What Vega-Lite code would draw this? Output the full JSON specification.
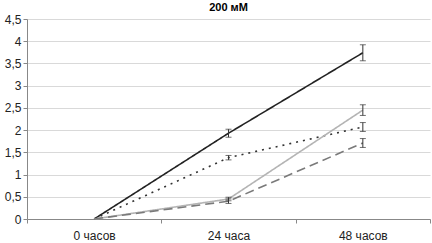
{
  "$schema": "https://vega.github.io/schema/vega-lite/v6.json",
  "width": 403,
  "height": 200,
  "autosize": {"type": "none"},
  "padding": {"left": 27, "top": 19, "right": 2, "bottom": 24},
  "background": "white",
  "title": {"text": "200 мМ", "font": "Liberation Sans", "fontSize": 11, "fontWeight": "bold", "color": "#000", "offset": 0},
  "config": {
    "view": {"stroke": null},
    "axis": {"labelFont": "Liberation Sans", "labelFontSize": 12, "labelColor": "#222", "domainColor": "#888", "tickColor": "#888", "gridColor": "#d9d9d9"}
  },
  "data": {"values": [
    {"t": "0 часов", "s": "A", "v": 0, "e": 0},
    {"t": "24 часа", "s": "A", "v": 1.93, "e": 0.09},
    {"t": "48 часов", "s": "A", "v": 3.74, "e": 0.18},
    {"t": "0 часов", "s": "B", "v": 0, "e": 0},
    {"t": "24 часа", "s": "B", "v": 1.38, "e": 0.05},
    {"t": "48 часов", "s": "B", "v": 2.07, "e": 0.1},
    {"t": "0 часов", "s": "C", "v": 0, "e": 0},
    {"t": "24 часа", "s": "C", "v": 0.45, "e": 0.04},
    {"t": "48 часов", "s": "C", "v": 2.45, "e": 0.12},
    {"t": "0 часов", "s": "D", "v": 0, "e": 0},
    {"t": "24 часа", "s": "D", "v": 0.4, "e": 0.05},
    {"t": "48 часов", "s": "D", "v": 1.71, "e": 0.1}
  ]},
  "encoding": {
    "x": {"field": "t", "type": "nominal", "sort": ["0 часов", "24 часа", "48 часов"],
      "scale": {"type": "band", "paddingInner": 0, "paddingOuter": 0},
      "axis": {"title": null, "labelAngle": 0, "tickBand": "extent", "labelPadding": 7, "grid": false, "tickSize": 4}},
    "y": {"field": "v", "type": "quantitative", "scale": {"domain": [0, 4.5]},
      "axis": {"title": null, "values": [0, 0.5, 1, 1.5, 2, 2.5, 3, 3.5, 4, 4.5], "labelOverlap": false, "labelExpr": "replace(format(datum.value, ''), '.', ',')", "tickSize": 4, "labelPadding": 2}}
  },
  "layer": [
    {
      "mark": {"type": "line", "strokeWidth": 1.6},
      "encoding": {
        "color": {"field": "s", "type": "nominal", "legend": null,
          "scale": {"domain": ["A", "B", "C", "D"], "range": ["#222222", "#333333", "#b4b4b4", "#7a7a7a"]}},
        "strokeDash": {"field": "s", "type": "nominal", "legend": null,
          "scale": {"domain": ["A", "B", "C", "D"], "range": [[1, 0], [2, 5], [1, 0], [9, 5]]}}
      }
    },
    {
      "transform": [{"filter": "datum.e > 0"}],
      "mark": {"type": "errorbar", "ticks": {"size": 6}, "color": "#333333"},
      "encoding": {
        "yError": {"field": "e"}
      }
    }
  ]
}
